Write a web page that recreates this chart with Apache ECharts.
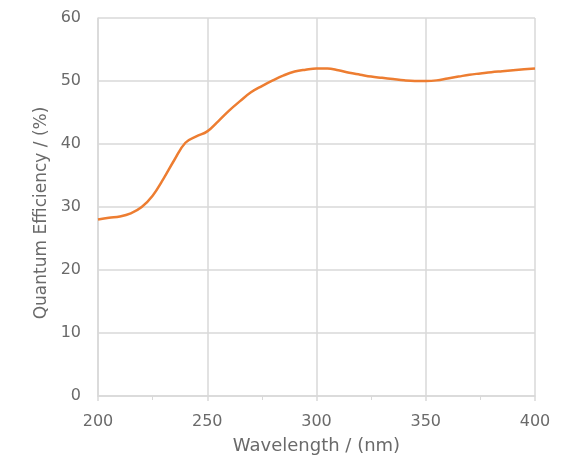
<!DOCTYPE html>
<html><head><meta charset="utf-8">
<script src="https://cdn.jsdelivr.net/npm/echarts@6/dist/echarts.min.js"></script>
<style>html,body{margin:0;padding:0;background:#fff}#c{width:579px;height:460px}</style>
</head><body><div id="c"></div>
<script>
const wavelengths = [200,205,210,215,220,225,230,235,240,245,250,255,260,265,270,275,280,285,290,295,300,305,310,315,320,325,330,335,340,345,350,355,360,365,370,375,380,385,390,395,400];
const qe = [28.0,28.3,28.5,29.0,30.0,31.8,34.5,37.5,40.2,41.2,42.0,43.6,45.3,46.8,48.2,49.2,50.1,50.9,51.5,51.8,52.0,52.0,51.7,51.3,51.0,50.7,50.5,50.3,50.1,50.0,50.0,50.1,50.4,50.7,51.0,51.2,51.4,51.55,51.7,51.85,52.0];
const xName = 'Wavelength / (nm)';
const yName = 'Quantum Efficiency / (%)';
const font = 'DejaVu Sans';
const txt = '#6a6a6a';
const chart = echarts.init(document.getElementById('c'));
chart.setOption({
  animation: false,
  grid: {left: 98, right: 44, top: 18, bottom: 64},
  xAxis: {
    type: 'value', min: 200, max: 400, interval: 50,
    name: xName, nameLocation: 'middle', nameGap: 41,
    nameTextStyle: {color: txt, fontSize: 18, fontFamily: font},
    axisLabel: {color: txt, fontSize: 16, fontFamily: font, margin: 18},
    axisLine: {lineStyle: {color: '#D9D9D9', width: 1.5}},
    axisTick: {show: true, length: 5, lineStyle: {color: '#D9D9D9', width: 1.5}},
    minorTick: {show: true, splitNumber: 2, length: 4, lineStyle: {color: '#D9D9D9', width: 1}},
    splitLine: {show: true, lineStyle: {color: '#D9D9D9', width: 1.5}}
  },
  yAxis: {
    type: 'value', min: 0, max: 60, interval: 10,
    name: yName, nameLocation: 'middle', nameGap: 48,
    nameTextStyle: {color: txt, fontSize: 17, fontFamily: font, padding: [0, 12, 0, 0]},
    axisLabel: {color: txt, fontSize: 16, fontFamily: font, margin: 17},
    axisLine: {show: true, lineStyle: {color: '#D9D9D9', width: 1.5}},
    axisTick: {show: false},
    splitLine: {show: true, lineStyle: {color: '#D9D9D9', width: 1.5}}
  },
  series: [{
    type: 'line', smooth: 0.4, showSymbol: false,
    data: wavelengths.map((w, i) => [w, qe[i]]),
    lineStyle: {color: '#ED7D31', width: 2.5}
  }]
});
</script></body></html>
